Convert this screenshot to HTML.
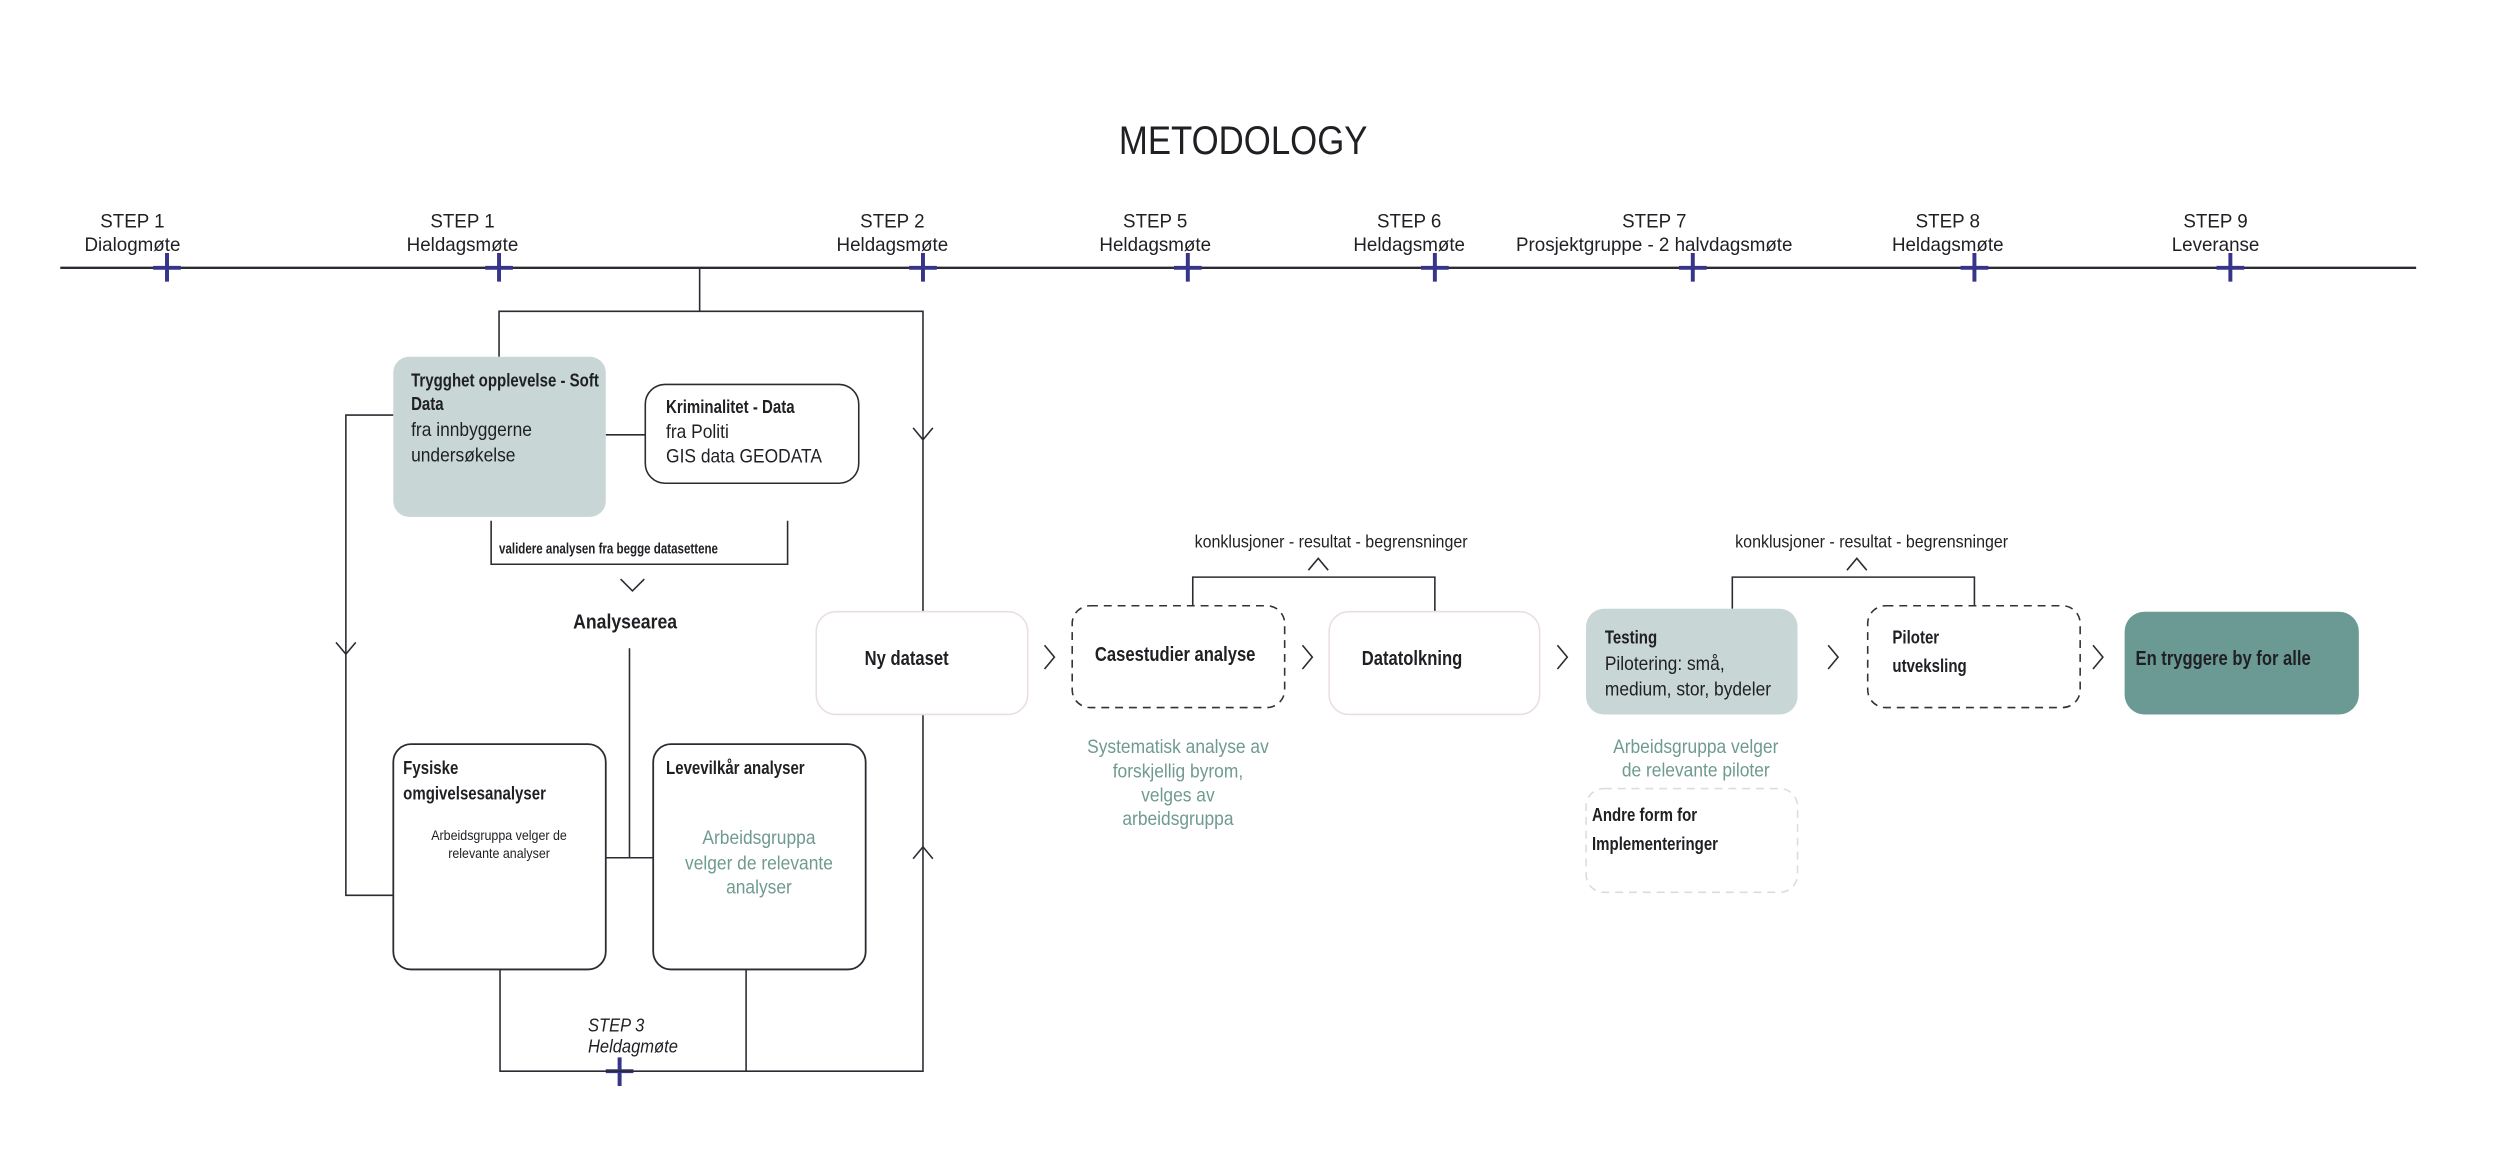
<!DOCTYPE html>
<html><head><meta charset="utf-8"><style>
html,body{margin:0;padding:0;background:#fff;}
svg{display:block;}
text{font-family:"Liberation Sans",sans-serif;fill:#1f1f24;}
.t{fill:#6f9a90;}
</style></head><body>
<svg width="2500" height="1163" viewBox="0 0 2500 1163" xmlns="http://www.w3.org/2000/svg">
<g transform="scale(0.9882)">
<text x="1258" y="156" font-size="40" text-anchor="middle" transform="translate(1258,0) scale(0.88,1) translate(-1258,0)">METODOLOGY</text>

<line x1="61" y1="271" x2="2445" y2="271" stroke="#2b2b33" stroke-width="2.5"/>
<g stroke="#36358a" stroke-width="4">
<line x1="169" y1="256" x2="169" y2="285"/><line x1="155" y1="271" x2="183" y2="271"/>
<line x1="505" y1="256" x2="505" y2="285"/><line x1="491" y1="271" x2="519" y2="271"/>
<line x1="934" y1="256" x2="934" y2="285"/><line x1="920" y1="271" x2="948" y2="271"/>
<line x1="1202" y1="256" x2="1202" y2="285"/><line x1="1188" y1="271" x2="1216" y2="271"/>
<line x1="1452" y1="256" x2="1452" y2="285"/><line x1="1438" y1="271" x2="1466" y2="271"/>
<line x1="1713" y1="256" x2="1713" y2="285"/><line x1="1699" y1="271" x2="1727" y2="271"/>
<line x1="1998" y1="256" x2="1998" y2="285"/><line x1="1984" y1="271" x2="2012" y2="271"/>
<line x1="2257" y1="256" x2="2257" y2="285"/><line x1="2243" y1="271" x2="2271" y2="271"/>
<line x1="627" y1="1070" x2="627" y2="1099"/><line x1="613" y1="1084" x2="641" y2="1084"/>
</g>
<g font-size="20" text-anchor="middle">
<text transform="translate(134,230) scale(0.95,1)">STEP 1</text><text transform="translate(134,254) scale(0.95,1)">Dialogmøte</text>
<text transform="translate(468,230) scale(0.95,1)">STEP 1</text><text transform="translate(468,254) scale(0.95,1)">Heldagsmøte</text>
<text transform="translate(903,230) scale(0.95,1)">STEP 2</text><text transform="translate(903,254) scale(0.95,1)">Heldagsmøte</text>
<text transform="translate(1169,230) scale(0.95,1)">STEP 5</text><text transform="translate(1169,254) scale(0.95,1)">Heldagsmøte</text>
<text transform="translate(1426,230) scale(0.95,1)">STEP 6</text><text transform="translate(1426,254) scale(0.95,1)">Heldagsmøte</text>
<text transform="translate(1674,230) scale(0.95,1)">STEP 7</text><text transform="translate(1674,254) scale(0.95,1)">Prosjektgruppe - 2 halvdagsmøte</text>
<text transform="translate(1971,230) scale(0.95,1)">STEP 8</text><text transform="translate(1971,254) scale(0.95,1)">Heldagsmøte</text>
<text transform="translate(2242,230) scale(0.95,1)">STEP 9</text><text transform="translate(2242,254) scale(0.95,1)">Leveranse</text>
</g>

<g stroke="#2b2b33" stroke-width="1.6" fill="none">
<polyline points="708,271 708,315"/>
<polyline points="505,361 505,315 934,315 934,1084 506,1084 506,981"/>
<line x1="755" y1="981" x2="755" y2="1084"/>
<polyline points="398,420 350,420 350,906 398,906"/>
<line x1="613" y1="440" x2="653" y2="440"/>
<polyline points="497,527 497,571 797,571 797,527"/>
<line x1="637" y1="656" x2="637" y2="868"/>
<line x1="613" y1="868" x2="661" y2="868"/>
<polyline points="1207,613 1207,584 1452,584 1452,619"/>
<polyline points="1753,616 1753,584 1998,584 1998,613"/>
<polyline points="924,433 934,445 944,433"/>
<polyline points="924,869 934,857 944,869"/>
<polyline points="340,650 350,662 360,650"/>
<polyline points="628,586 640,598 652,586"/>
<polyline points="1324,577 1334,565 1344,577"/>
<polyline points="1869,577 1879,565 1889,577"/>
<polyline points="1057,653 1067,665 1057,677"/>
<polyline points="1318,653 1328,665 1318,677"/>
<polyline points="1576,653 1586,665 1576,677"/>
<polyline points="1850,653 1860,665 1850,677"/>
<polyline points="2118,653 2128,665 2118,677"/>
</g>

<rect x="398" y="361" width="215" height="162" rx="16" fill="#c8d6d5"/>
<rect x="653" y="389" width="216" height="100" rx="20" fill="#fff" stroke="#2b2b33" stroke-width="1.6"/>
<rect x="398" y="753" width="215" height="228" rx="18" fill="#fff" stroke="#2b2b33" stroke-width="1.8"/>
<rect x="661" y="753" width="215" height="228" rx="18" fill="#fff" stroke="#2b2b33" stroke-width="1.8"/>
<rect x="826" y="619" width="214" height="104" rx="20" fill="#fff" stroke="#eadfe0" stroke-width="1.6"/>
<rect x="1085" y="613" width="215" height="103" rx="18" fill="#fff" stroke="#333" stroke-width="1.6" stroke-dasharray="8,6"/>
<rect x="1345" y="619" width="213" height="104" rx="20" fill="#fff" stroke="#eadfe0" stroke-width="1.6"/>
<rect x="1605" y="616" width="214" height="107" rx="18" fill="#c8d6d5"/>
<rect x="1890" y="613" width="215" height="103" rx="18" fill="#fff" stroke="#333" stroke-width="1.6" stroke-dasharray="8,6"/>
<rect x="2150" y="619" width="237" height="104" rx="20" fill="#6b9a94"/>
<rect x="1605" y="798" width="214" height="105" rx="18" fill="#fff" stroke="#e2dada" stroke-width="1.6" stroke-dasharray="8,6"/>

<g font-size="19" font-weight="bold">
<text transform="translate(416,391) scale(0.8,1)">Trygghet opplevelse - Soft</text>
<text transform="translate(416,415) scale(0.8,1)">Data</text>
<text transform="translate(674,418) scale(0.8,1)">Kriminalitet - Data</text>
<text transform="translate(408,783) scale(0.8,1)">Fysiske</text>
<text transform="translate(408,809) scale(0.8,1)">omgivelsesanalyser</text>
<text transform="translate(674,783) scale(0.8,1)">Levevilkår analyser</text>
<text transform="translate(1611,831) scale(0.8,1)">Andre form for</text>
<text transform="translate(1611,860) scale(0.8,1)">Implementeringer</text>
<text transform="translate(1624,651) scale(0.8,1)">Testing</text>
<text transform="translate(1915,651) scale(0.8,1)">Piloter</text>
<text transform="translate(1915,680) scale(0.8,1)">utveksling</text>
</g>
<g font-size="21" font-weight="bold">
<text transform="translate(875,673) scale(0.8,1)">Ny dataset</text>
<text transform="translate(1108,669) scale(0.8,1)">Casestudier analyse</text>
<text transform="translate(1378,673) scale(0.8,1)">Datatolkning</text>
<text transform="translate(2161,673) scale(0.8,1)" fill="#1f2a2a">En tryggere by for alle</text>
<text transform="translate(580,636) scale(0.85,1)">Analysearea</text>
</g>
<text transform="translate(505,560) scale(0.78,1)" font-size="15" font-weight="bold">validere analysen fra begge datasettene</text>
<g font-size="20">
<text transform="translate(416,441) scale(0.88,1)">fra innbyggerne</text>
<text transform="translate(416,467) scale(0.88,1)">undersøkelse</text>
<text transform="translate(674,443) scale(0.88,1)">fra Politi</text>
<text transform="translate(674,468) scale(0.88,1)">GIS data GEODATA</text>
<text transform="translate(1624,678) scale(0.88,1)">Pilotering: små,</text>
<text transform="translate(1624,704) scale(0.88,1)">medium, stor, bydeler</text>
</g>
<g font-size="14" text-anchor="middle">
<text transform="translate(505,850) scale(0.9,1)">Arbeidsgruppa velger de</text>
<text transform="translate(505,868) scale(0.9,1)">relevante analyser</text>
</g>
<g font-size="18" text-anchor="middle">
<text transform="translate(1347,554) scale(0.9,1)">konklusjoner - resultat - begrensninger</text>
<text transform="translate(1894,554) scale(0.9,1)">konklusjoner - resultat - begrensninger</text>
</g>
<g font-size="19" font-style="italic">
<text transform="translate(595,1044) scale(0.88,1)">STEP 3</text>
<text transform="translate(595,1065) scale(0.88,1)">Heldagmøte</text>
</g>
<g font-size="20" text-anchor="middle">
<text class="t" transform="translate(768,854) scale(0.88,1)">Arbeidsgruppa</text>
<text class="t" transform="translate(768,880) scale(0.88,1)">velger de relevante</text>
<text class="t" transform="translate(768,904) scale(0.88,1)">analyser</text>
<text class="t" transform="translate(1192,762) scale(0.88,1)">Systematisk analyse av</text>
<text class="t" transform="translate(1192,787) scale(0.88,1)">forskjellig byrom,</text>
<text class="t" transform="translate(1192,811) scale(0.88,1)">velges av</text>
<text class="t" transform="translate(1192,835) scale(0.88,1)">arbeidsgruppa</text>
<text class="t" transform="translate(1716,762) scale(0.88,1)">Arbeidsgruppa velger</text>
<text class="t" transform="translate(1716,786) scale(0.88,1)">de relevante piloter</text>
</g>
</g>
</svg>
</body></html>
